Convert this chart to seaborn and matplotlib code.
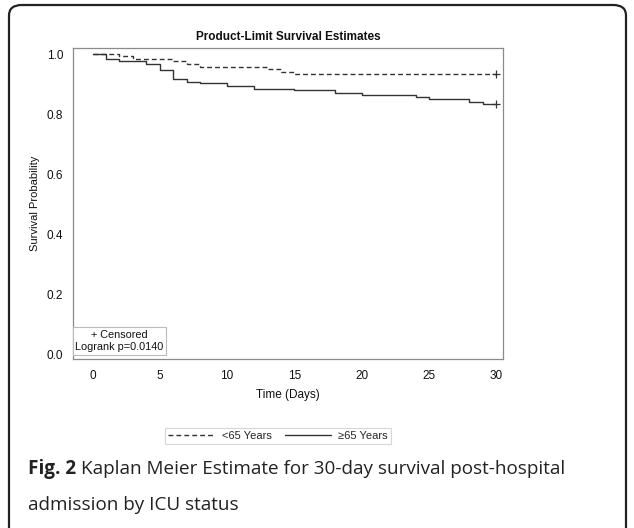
#!/usr/bin/env python3

import pandas as pd
import seaborn as sns
import matplotlib.pyplot as plt
from matplotlib.lines import Line2D
from matplotlib.patches import FancyBboxPatch

# Kaplan-Meier step values
young_days = [0, 2, 3, 6, 7, 8, 13, 14, 15, 30]
young_surv = [1.0, 0.992, 0.984, 0.976, 0.967, 0.957, 0.949, 0.941, 0.934, 0.934]
old_days = [0, 1, 2, 4, 5, 6, 7, 8, 10, 12, 15, 18, 20, 24, 25, 28, 29, 30]
old_surv = [1.0, 0.984, 0.976, 0.968, 0.946, 0.917, 0.907, 0.902, 0.894,
            0.885, 0.879, 0.869, 0.865, 0.856, 0.849, 0.841, 0.834, 0.834]
groups = ['<65 Years', '≥65 Years']
x_ticks = [0, 5, 10, 15, 20, 25, 30]
y_ticks = [0.0, 0.2, 0.4, 0.6, 0.8, 1.0]

df = pd.concat([
    pd.DataFrame({'Time': young_days, 'Survival': young_surv, 'Group': groups[0]}),
    pd.DataFrame({'Time': old_days, 'Survival': old_surv, 'Group': groups[1]}),
])

sns.set_style('white')
plt.rcParams['font.family'] = ['Liberation Sans', 'DejaVu Sans']

W, H = 634, 528
fig = plt.figure(figsize=(W / 100, H / 100), dpi=100)

# outer rounded frame of the figure panel
frame = FancyBboxPatch((9 / W, -30 / H), 617 / W, 553 / H,
                       boxstyle='round,pad=0,rounding_size=0.02',
                       transform=fig.transFigure, fill=False,
                       edgecolor='#222222', linewidth=1.6)
fig.patches.append(frame)

ax = fig.add_axes([73 / W, 1 - 359 / H, 430 / W, 311 / H])

sns.lineplot(data=df, x='Time', y='Survival', style='Group',
             dashes={groups[0]: (3.5, 2.2), groups[1]: ''},
             color='#333333', linewidth=1.0, drawstyle='steps-post',
             estimator=None, legend=False, ax=ax)

# censored marks at end of follow-up
ax.plot([young_days[-1]], [young_surv[-1]], marker='+', color='#333333',
        markersize=6, markeredgewidth=0.9, linestyle='none')
ax.plot([old_days[-1]], [old_surv[-1]], marker='+', color='#333333',
        markersize=6, markeredgewidth=0.9, linestyle='none')

ax.set_xlim(-1.45, 30.5)
ax.set_ylim(-0.014, 1.02)
ax.set_xticks(x_ticks)
ax.set_yticks(y_ticks)
ax.set_xticklabels([str(t) for t in x_ticks])
ax.set_yticklabels(['%.1f' % t for t in y_ticks])
ax.tick_params(axis='both', labelsize=8.5, length=4, width=0.8,
               color='#555555', labelcolor='#111111', pad=3)
ax.tick_params(axis='x', direction='out', pad=4)
ax.tick_params(axis='y', direction='out')
for s in ax.spines.values():
    s.set_color('#8a8a8a')
    s.set_linewidth(0.9)

ax.set_xlabel('Time (Days)', fontsize=8.5, color='#111111', labelpad=5)
ax.set_ylabel('Survival Probability', fontsize=8, color='#111111', labelpad=5)
ax.set_title('Product-Limit Survival Estimates', fontsize=8.5,
             fontweight='bold', color='#111111', pad=6)

# inset text box
ax.text(0.108, 0.058, '+ Censored\nLogrank p=0.0140', transform=ax.transAxes,
        ha='center', va='center', fontsize=7.8, linespacing=1.35,
        color='#111111',
        bbox=dict(boxstyle='square,pad=0.22', facecolor='white',
                  edgecolor='#bbbbbb', linewidth=0.8))

handles = [Line2D([], [], color='#333333', linewidth=1.0, dashes=(3.5, 2.2)),
           Line2D([], [], color='#333333', linewidth=1.0)]
leg = fig.legend(handles, groups, loc='center', ncol=2,
                 bbox_to_anchor=(278 / W, 1 - 436 / H), fontsize=8,
                 frameon=True, fancybox=False, handlelength=4.2,
                 columnspacing=1.2, handletextpad=0.6, borderpad=0.3)
leg.get_frame().set_edgecolor('#cccccc')
leg.get_frame().set_linewidth(0.8)

# caption, bold label followed by regular text
cap = dict(fontsize=13.6, family=['Open Sans', 'DejaVu Sans'], color='#222222',
           va='center')
lab = fig.text(28 / W, 1 - 469 / H, 'Fig. 2', fontweight='bold', **cap)
rend = fig.canvas.get_renderer()
x_end = lab.get_window_extent(rend).x1 / W
fig.text(x_end + 5 / W, 1 - 469 / H,
         'Kaplan Meier Estimate for 30-day survival post-hospital', **cap)
fig.text(28 / W, 1 - 505 / H, 'admission by ICU status', **cap)

fig.savefig('out.png', dpi=100)
